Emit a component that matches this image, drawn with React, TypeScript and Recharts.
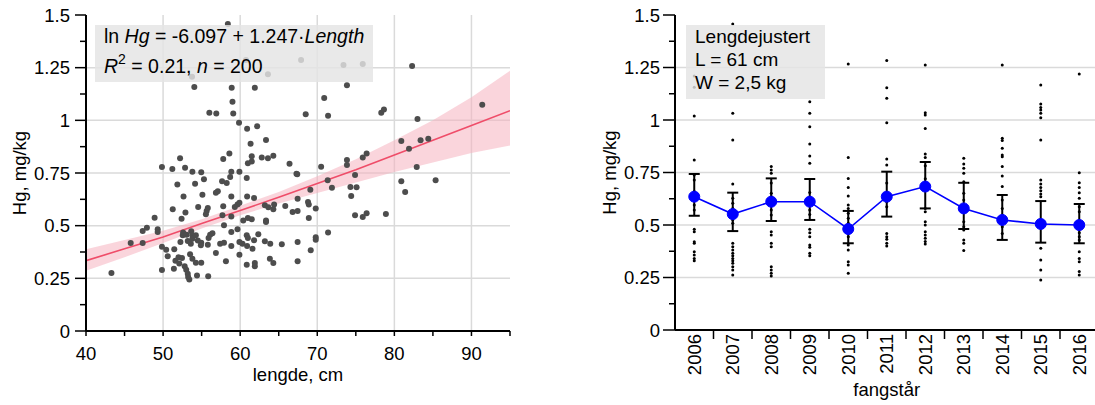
import React from "react";
import {
  ComposedChart,
  Scatter,
  Line,
  Area,
  XAxis,
  YAxis,
  CartesianGrid,
  ErrorBar,
  Label,
} from "recharts";

const FONT = "'Liberation Sans', Arial, Helvetica, sans-serif";

// left panel: individual fish, length (cm) vs Hg (mg/kg)
const lengthCm = [
  58.4, 53.75, 60.75, 63.6, 54.05, 58.9, 61.9, 59.0, 56.0, 56.9, 59.1, 59.85, 60.9, 62.2, 63.35, 61.35,
  52.2, 58.6, 57.8, 49.85, 51.2, 52.85, 53.8, 54.95, 61.5, 61.0, 61.5, 62.8, 63.6, 64.3, 58.85, 59.9,
  66.4, 67.3, 67.9, 73.4, 75.9, 82.3, 73.85, 70.9, 68.5, 71.4, 78.3, 78.65, 91.4, 83.0, 80.9, 81.9,
  83.4, 84.4, 82.9, 75.9, 76.4, 73.85, 73.85, 70.5, 67.4, 74.9, 71.35, 71.9, 74.3, 75.1, 74.4, 80.9,
  85.35, 81.4, 69.1, 67.45, 68.8, 68.9, 69.8, 67.45, 68.9, 74.9, 75.9, 76.4, 78.9, 71.4, 69.8, 69.8,
  67.45, 69.15, 67.45, 43.3, 45.8, 47.35, 47.35, 47.9, 48.9, 49.3, 49.3, 49.85, 50.4, 50.6, 49.85, 51.45,
  51.6, 51.4, 51.25, 51.85, 52.65, 52.9, 52.4, 52.0, 52.45, 52.1, 52.25, 52.55, 52.8, 53.0, 53.2, 53.4,
  53.25, 52.6, 53.05, 53.65, 53.8, 53.2, 53.6, 53.8, 54.25, 54.5, 54.95, 53.5, 53.8, 54.25, 54.95, 54.4,
  55.85, 54.15, 55.1, 54.55, 55.65, 55.8, 55.55, 54.9, 55.8, 56.1, 56.4, 55.9, 56.85, 56.85, 57.1, 57.65,
  58.25, 58.7, 57.8, 57.7, 57.9, 57.4, 57.9, 58.15, 58.85, 58.85, 58.85, 58.85, 59.3, 59.65, 59.9, 59.65,
  59.9, 60.3, 59.9, 60.4, 61.0, 61.5, 60.9, 61.8, 60.85, 60.85, 61.0, 60.9, 61.6, 60.85, 61.9, 61.9,
  62.35, 61.8, 63.2, 63.65, 64.4, 64.3, 63.35, 63.35, 63.2, 63.9, 63.85, 64.3, 65.4, 65.85, 66.8, 55.3,
];
const hgMgKg = [
  1.457, 1.207, 1.286, 1.219, 1.158, 1.155, 1.155, 1.088, 1.036, 1.033, 1.032, 0.989, 0.96, 0.972, 0.907, 0.889,
  0.82, 0.842, 0.816, 0.779, 0.769, 0.775, 0.756, 0.753, 0.829, 0.796, 0.804, 0.823, 0.82, 0.832, 0.756, 0.756,
  0.794, 0.747, 1.286, 1.263, 1.267, 1.258, 1.166, 1.106, 1.029, 1.022, 1.036, 1.052, 1.074, 1.006, 0.902, 0.865,
  0.905, 0.913, 0.779, 0.823, 0.842, 0.812, 0.788, 0.78, 0.744, 0.741, 0.715, 0.68, 0.684, 0.682, 0.641, 0.711,
  0.715, 0.66, 0.671, 0.628, 0.612, 0.601, 0.581, 0.57, 0.536, 0.549, 0.541, 0.559, 0.555, 0.467, 0.445, 0.433,
  0.422, 0.383, 0.331, 0.275, 0.418, 0.418, 0.475, 0.49, 0.538, 0.483, 0.47, 0.4, 0.386, 0.355, 0.29, 0.388,
  0.334, 0.296, 0.578, 0.696, 0.639, 0.562, 0.533, 0.35, 0.347, 0.32, 0.422, 0.454, 0.307, 0.291, 0.272, 0.245,
  0.256, 0.467, 0.457, 0.473, 0.454, 0.427, 0.414, 0.438, 0.454, 0.429, 0.419, 0.364, 0.343, 0.324, 0.324, 0.264,
  0.26, 0.699, 0.647, 0.589, 0.57, 0.584, 0.554, 0.407, 0.41, 0.457, 0.464, 0.441, 0.37, 0.656, 0.663, 0.711,
  0.703, 0.731, 0.592, 0.549, 0.502, 0.414, 0.419, 0.331, 0.639, 0.544, 0.47, 0.404, 0.589, 0.6, 0.609, 0.483,
  0.422, 0.414, 0.362, 0.525, 0.536, 0.53, 0.639, 0.631, 0.726, 0.454, 0.441, 0.404, 0.391, 0.315, 0.323, 0.307,
  0.459, 0.431, 0.597, 0.587, 0.6, 0.578, 0.525, 0.517, 0.426, 0.414, 0.343, 0.323, 0.412, 0.593, 0.565, 0.72,
];

// fitted curve and its confidence band
const fitLength = [40, 45, 50, 55, 60, 65, 70, 75, 80, 85, 90, 95];
const fitHg = [0.334, 0.39, 0.446, 0.51, 0.572, 0.635, 0.7, 0.765, 0.835, 0.905, 0.975, 1.046];
const fitLow = [0.286, 0.35, 0.418, 0.487, 0.55, 0.605, 0.655, 0.705, 0.755, 0.8, 0.845, 0.88];
const fitHigh = [0.388, 0.432, 0.476, 0.53, 0.595, 0.66, 0.735, 0.815, 0.905, 1.0, 1.11, 1.235];

// right panel: length adjusted Hg per catch year
const years = ["2006", "2007", "2008", "2009", "2010", "2011", "2012", "2013", "2014", "2015", "2016"];
const meanHg = [0.635, 0.552, 0.611, 0.611, 0.481, 0.635, 0.683, 0.579, 0.524, 0.505, 0.5];
const ciLow = [0.544, 0.471, 0.519, 0.524, 0.413, 0.54, 0.579, 0.481, 0.429, 0.416, 0.413];
const ciHigh = [0.743, 0.654, 0.722, 0.719, 0.567, 0.754, 0.8, 0.701, 0.643, 0.614, 0.6];
const yearlyHg = [
  [1.21, 1.156, 1.019, 0.81, 0.738, 0.714, 0.66, 0.595, 0.571, 0.48, 0.468, 0.42, 0.413, 0.373, 0.357, 0.341, 0.33],
  [1.457, 1.032, 0.905, 0.695, 0.627, 0.603, 0.579, 0.524, 0.508, 0.413, 0.397, 0.381, 0.365, 0.354, 0.341, 0.33, 0.318, 0.301, 0.286, 0.262],
  [0.778, 0.762, 0.746, 0.7, 0.651, 0.635, 0.571, 0.548, 0.468, 0.452, 0.413, 0.397, 0.301, 0.286, 0.27, 0.257],
  [1.087, 1.032, 0.968, 0.886, 0.829, 0.794, 0.655, 0.63, 0.571, 0.55, 0.48, 0.463, 0.444, 0.405, 0.394, 0.365, 0.354],
  [1.267, 0.822, 0.722, 0.679, 0.638, 0.595, 0.579, 0.556, 0.532, 0.508, 0.46, 0.444, 0.405, 0.381, 0.325, 0.31, 0.27],
  [1.283, 1.154, 1.103, 0.987, 0.814, 0.786, 0.7, 0.611, 0.587, 0.46, 0.444, 0.432, 0.413, 0.4],
  [1.262, 1.035, 1.024, 0.96, 0.838, 0.822, 0.782, 0.72, 0.579, 0.563, 0.516, 0.5, 0.468, 0.452, 0.437, 0.421, 0.41],
  [0.818, 0.79, 0.77, 0.746, 0.706, 0.651, 0.619, 0.571, 0.516, 0.492, 0.476, 0.429, 0.413, 0.378],
  [1.262, 0.913, 0.902, 0.865, 0.833, 0.825, 0.778, 0.733, 0.683, 0.619, 0.579, 0.548, 0.492, 0.46],
  [1.167, 1.076, 1.06, 1.048, 1.032, 1.011, 0.905, 0.714, 0.695, 0.679, 0.663, 0.648, 0.635, 0.389, 0.333, 0.286, 0.238],
  [1.219, 0.749, 0.701, 0.679, 0.654, 0.627, 0.587, 0.563, 0.492, 0.463, 0.444, 0.429, 0.373, 0.341, 0.325, 0.278, 0.262],
];

const hgTicks = [0, 0.125, 0.25, 0.375, 0.5, 0.625, 0.75, 0.875, 1, 1.125, 1.25, 1.375, 1.5];
const hgGrid = [0.25, 0.5, 0.75, 1, 1.25];
const lengthTicks = [40, 45, 50, 55, 60, 65, 70, 75, 80, 85, 90, 95];
const lengthGrid = [50, 60, 70, 80, 90];

const scatterData = lengthCm.map((x, i) => ({ x, y: hgMgKg[i] }));
const fitData = fitLength.map((x, i) => ({ x, fit: fitHg[i], band: [fitLow[i], fitHigh[i]] }));
const yearData = years.map((_, i) => ({
  x: i,
  mean: meanHg[i],
  err: [meanHg[i] - ciLow[i], ciHigh[i] - meanHg[i]],
}));
const yearDots = yearlyHg.flatMap((vals, i) => vals.map((y) => ({ x: i, y })));
const yearTicks = years.flatMap((_, i) => (i < years.length - 1 ? [i, i + 0.5] : [i]));

const FS = 18.5;
const axisLine = { stroke: "#000", strokeWidth: 2 };

function HgTick(props: any, major: number, gap: number) {
  const { x, y, payload } = props;
  const v = payload.value;
  const isMajor = Math.abs(v * 4 - Math.round(v * 4)) < 1e-6;
  const len = isMajor ? major : 6;
  return (
    <g>
      <line x1={x - len} x2={x} y1={y} y2={y} stroke="#000" strokeWidth={1.5} />
      {isMajor && (
        <text x={x - len - gap} y={y} dy="0.36em" textAnchor="end" fontSize={FS} fontFamily={FONT} fill="#000">
          {String(v)}
        </text>
      )}
    </g>
  );
}

function LengthTick(props: any) {
  const { x, y, payload } = props;
  const v = payload.value;
  return (
    <g>
      <line x1={x} x2={x} y1={y} y2={y + 5} stroke="#000" strokeWidth={1.5} />
      {v % 10 === 0 && (
        <text x={x} y={y + 29} textAnchor="middle" fontSize={FS} fontFamily={FONT} fill="#000">
          {v}
        </text>
      )}
    </g>
  );
}

function YearTick(props: any) {
  const { x, y, payload } = props;
  const v = payload.value;
  if (!Number.isInteger(v)) {
    return <line x1={x} x2={x} y1={y} y2={y + 9} stroke="#000" strokeWidth={1.5} />;
  }
  return (
    <text
      x={x}
      y={y + 4}
      dy="0.36em"
      textAnchor="end"
      transform={`rotate(-90, ${x}, ${y + 4})`}
      fontSize={FS}
      fontFamily={FONT}
      fill="#000"
    >
      {years[v]}
    </text>
  );
}

export default function App() {
  return (
    <div
      style={{
        position: "absolute",
        left: 0,
        top: 0,
        width: 1095,
        height: 405,
        overflow: "hidden",
        background: "#fff",
        fontFamily: FONT,
      }}
    >
      <div style={{ position: "absolute", left: 0, top: 0 }}>
        <ComposedChart width={560} height={405} data={fitData} margin={{ top: 15, right: 50, bottom: 0, left: 0 }}>
          <CartesianGrid
            stroke="#dadada"
            strokeWidth={1.5}
            horizontalValues={hgGrid}
            verticalValues={lengthGrid}
          />
          <XAxis
            type="number"
            dataKey="x"
            domain={[40, 95]}
            ticks={lengthTicks}
            interval={0}
            allowDataOverflow
            height={74}
            tickSize={0}
            tickMargin={0}
            tickLine={false}
            axisLine={axisLine}
            tick={LengthTick}
          >
            <Label value="lengde, cm" position="insideBottom" offset={24} fontSize={FS} fill="#000" />
          </XAxis>
          <XAxis xAxisId="top" orientation="top" type="number" domain={[40, 95]} height={0} tick={false} tickLine={false} axisLine={{ stroke: "#000", strokeWidth: 1.5 }} />
          <YAxis
            type="number"
            domain={[0, 1.5]}
            ticks={hgTicks}
            interval={0}
            allowDataOverflow
            width={86}
            tickSize={0}
            tickMargin={0}
            tickLine={false}
            axisLine={axisLine}
            tick={(p: any) => HgTick(p, 11, 5)}
          >
            <Label value="Hg, mg/kg" angle={-90} position="insideLeft" offset={19} fontSize={FS} fill="#000" style={{ textAnchor: "middle" }} />
          </YAxis>
          <YAxis yAxisId="frame" orientation="right" domain={[0, 1.5]} width={0} tick={false} tickLine={false} axisLine={{ stroke: "#000", strokeWidth: 1.5 }} />
          <Area dataKey="band" type="linear" stroke="none" fill="#f6b3c0" fillOpacity={0.55} isAnimationActive={false} />
          <Line dataKey="fit" type="linear" stroke="#ef4d69" strokeWidth={1.6} dot={false} isAnimationActive={false} />
          <Scatter
            data={scatterData}
            dataKey="y"
            isAnimationActive={false}
            shape={(p: any) => <circle cx={p.cx} cy={p.cy} r={3} fill="#4d4d4d" />}
          />
        </ComposedChart>
      </div>

      <div style={{ position: "absolute", left: 560, top: 0 }}>
        <ComposedChart width={560} height={405} data={yearData} margin={{ top: 15, right: 21.5, bottom: 0, left: 0 }}>
          <CartesianGrid stroke="#dadada" strokeWidth={1.5} vertical={false} horizontalValues={hgGrid} />
          <XAxis
            type="number"
            dataKey="x"
            domain={[-0.5, 10.5]}
            ticks={yearTicks}
            interval={0}
            allowDataOverflow
            height={75}
            tickSize={0}
            tickMargin={0}
            tickLine={false}
            axisLine={axisLine}
            tick={YearTick}
          >
            <Label value="fangstår" position="insideBottom" offset={9} fontSize={FS} fill="#000" />
          </XAxis>
          <XAxis xAxisId="top" orientation="top" type="number" domain={[-0.5, 10.5]} height={0} tick={false} tickLine={false} axisLine={{ stroke: "#000", strokeWidth: 1.5 }} />
          <YAxis
            type="number"
            domain={[0, 1.5]}
            ticks={hgTicks}
            interval={0}
            allowDataOverflow
            width={115}
            tickSize={0}
            tickMargin={0}
            tickLine={false}
            axisLine={axisLine}
            tick={(p: any) => HgTick(p, 12, 3)}
          >
            <Label value="Hg, mg/kg" angle={-90} position="insideLeft" offset={49} fontSize={FS} fill="#000" style={{ textAnchor: "middle" }} />
          </YAxis>
          <Scatter
            data={yearDots}
            dataKey="y"
            isAnimationActive={false}
            shape={(p: any) => <circle cx={p.cx} cy={p.cy} r={1.5} fill="#000" />}
          />
          <Line
            dataKey="mean"
            type="linear"
            stroke="#0000ff"
            strokeWidth={1.6}
            dot={{ r: 5.5, fill: "#0000ff", stroke: "#0000ff", strokeWidth: 1 }}
            isAnimationActive={false}
          >
            <ErrorBar dataKey="err" direction="y" width={5.5} stroke="#000" strokeWidth={2} />
          </Line>
        </ComposedChart>
      </div>

      {/* text boxes drawn over the plots */}
      <svg width={1095} height={405} style={{ position: "absolute", left: 0, top: 0, pointerEvents: "none" }}>
        <rect x={95} y={25} width={278} height={57} fill="#e4e4e4" fillOpacity={0.82} />
        <text x={104} y={43} fontSize={19.5} fontFamily={FONT} fill="#000">
          ln <tspan fontStyle="italic">Hg</tspan> = -6.097 + 1.247·<tspan fontStyle="italic">Length</tspan>
        </text>
        <text x={104} y={73} fontSize={19.5} fontFamily={FONT} fill="#000">
          <tspan fontStyle="italic">R</tspan>
          <tspan dy={-9} fontSize={14}>2</tspan>
          <tspan dy={9}> = 0.21, </tspan>
          <tspan fontStyle="italic">n</tspan> = 200
        </text>
        <rect x={686} y={25} width={139} height={74} fill="#e4e4e4" fillOpacity={0.82} />
        <text fontSize={19} fontFamily={FONT} fill="#000">
          <tspan x={695} y={43}>Lengdejustert</tspan>
          <tspan x={695} y={66}>L = 61 cm</tspan>
          <tspan x={695} y={89}>W = 2,5 kg</tspan>
        </text>
      </svg>
    </div>
  );
}
